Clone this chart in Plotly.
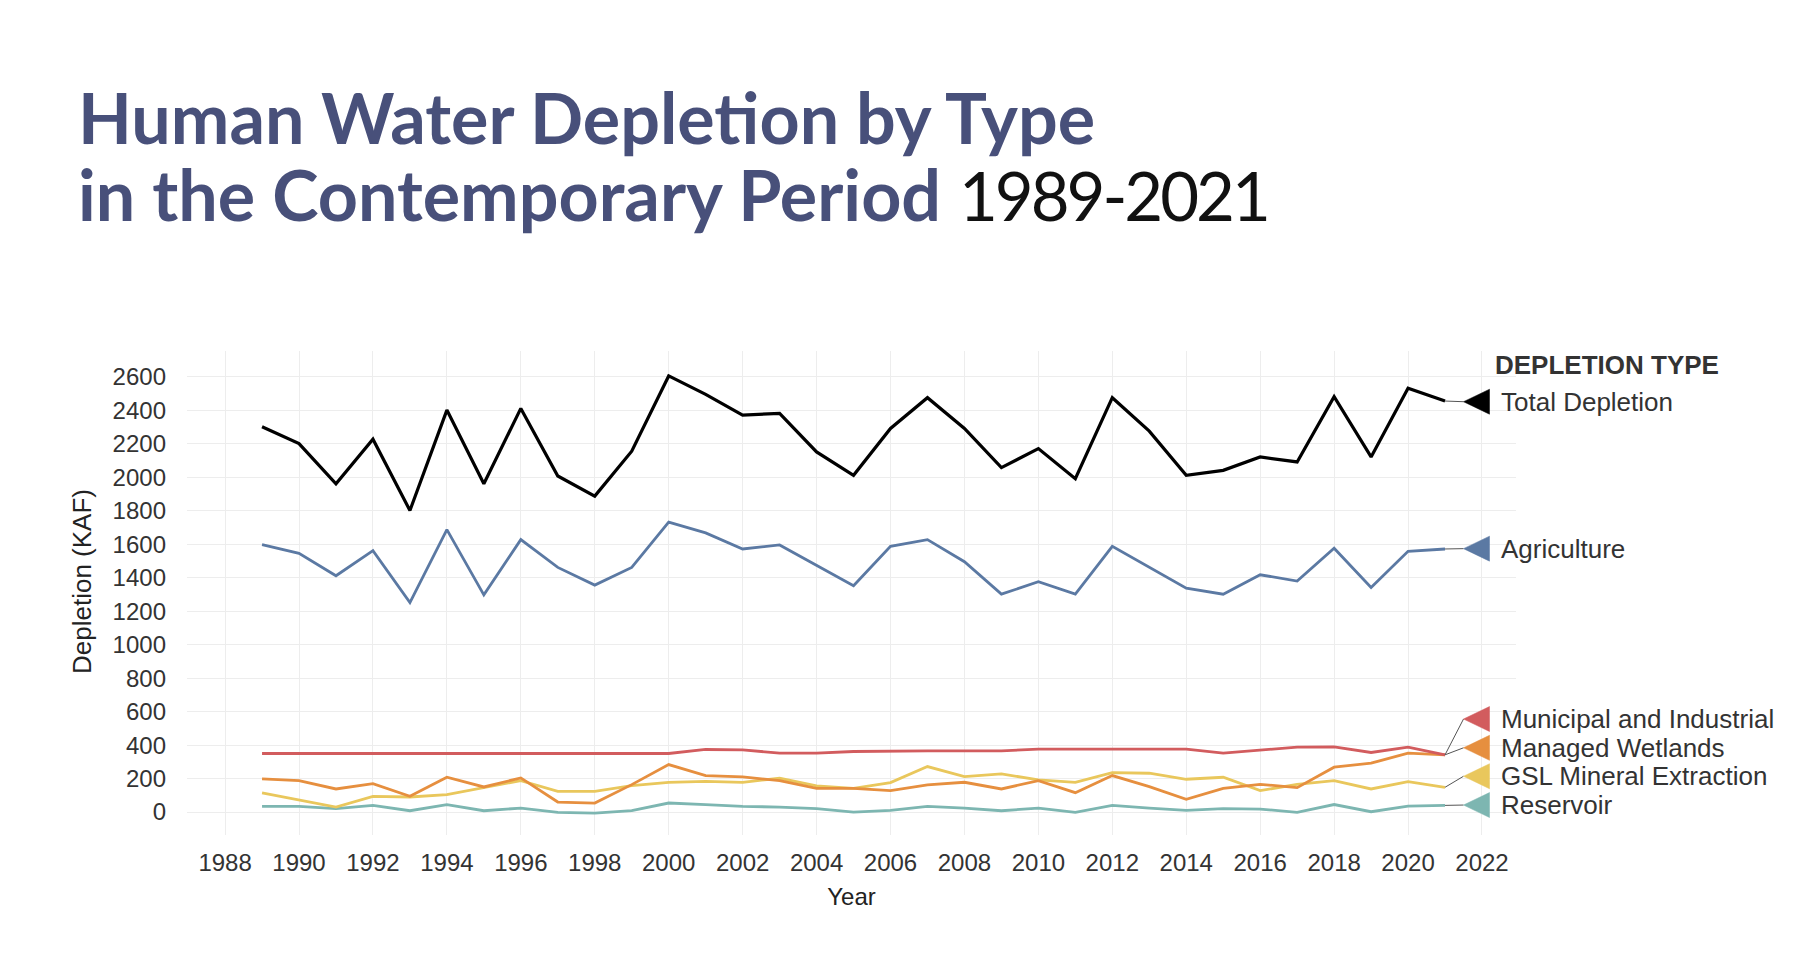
import plotly.graph_objects as go

# ---------------- data ----------------
years = list(range(1989, 2022))

total_depletion = [2302, 2202, 1962, 2228, 1802, 2402, 1962, 2412, 2008, 1888, 2156, 2606, 2496, 2372,
                   2382, 2152, 2012, 2292, 2476, 2292, 2058, 2172, 1992, 2476, 2276, 2012, 2042, 2122, 2092,
                   2482, 2122, 2532, 2456]
agriculture = [1598, 1546, 1412, 1562, 1252, 1688, 1298, 1628, 1462, 1356, 1462, 1732, 1668, 1572,
               1596, 1472, 1352, 1588, 1628, 1496, 1302, 1376, 1302, 1588, 1462, 1338, 1302, 1418,
               1380, 1576, 1342, 1558, 1572]
municipal_industrial = [350, 350, 350, 350, 350, 350, 350, 350, 350, 350, 350, 350, 374, 372,
                        352, 352, 362, 366, 366, 366, 366, 376, 376, 376, 376, 376, 352, 372, 388, 390,
                        356, 388, 342]
managed_wetlands = [198, 188, 138, 170, 94, 208, 150, 204, 60, 54, 164, 284, 218, 210,
                    188, 142, 142, 128, 162, 178, 138, 188, 116, 218, 152, 76, 142, 166, 146,
                    268, 292, 352, 342]
gsl_mineral = [114, 74, 30, 94, 90, 104, 144, 188, 124, 124, 158, 178, 184, 178,
               202, 156, 142, 176, 272, 212, 228, 192, 178, 236, 232, 196, 208, 128, 166,
               188, 138, 182, 148]
reservoir = [34, 34, 20, 40, 8, 44, 8, 24, -2, -6, 8, 54, 44, 34,
             30, 20, 0, 10, 34, 24, 8, 24, -2, 40, 24, 10, 20, 18, -2,
             45, 2, 36, 40]

series_names = ["Total Depletion", "Agriculture", "Municipal and Industrial",
                "Managed Wetlands", "GSL Mineral Extraction", "Reservoir"]
series_values = [total_depletion, agriculture, municipal_industrial,
                 managed_wetlands, gsl_mineral, reservoir]
series_colors = ["#000000", "#5b79a3", "#d25c5e", "#e68f3f", "#e9c75c", "#7db6b1"]
series_widths = [3.2, 2.8, 2.8, 2.8, 2.8, 2.8]
label_y = [2452, 1574, 556, 384, 214, 42]   # repelled label positions (KAF)

x_ticks = list(range(1988, 2023, 2))
y_ticks = list(range(0, 2601, 200))

# ---------------- layout geometry ----------------
W, H = 1806, 964
ML, MR, MT, MB = 179, 298, 343, 137
PW, PH = W - ML - MR, H - MT - MB
X_RANGE = [1986.97, 2022.92]
Y_RANGE = [-137, 2755]
px_per_year = PW / (X_RANGE[1] - X_RANGE[0])
px_per_unit = PH / (Y_RANGE[1] - Y_RANGE[0])


def px2paper_x(px):
    return (px - ML) / PW


def py2paper_y(py):
    return (H - MB - py) / PH


fig = go.Figure()

for i in [5, 4, 3, 2, 1, 0]:
    fig.add_trace(go.Scatter(
        x=years, y=series_values[i], mode="lines", name=series_names[i],
        line=dict(color=series_colors[i], width=series_widths[i]),
        showlegend=False, hoverinfo="x+y+name"))

# label connectors + triangle markers + text
tip_x = years[-1] + 0.5
tri_len = 26 / px_per_year
tri_half = 12.5 / px_per_unit
text_x = tip_x + 35 / px_per_year
for i, name in enumerate(series_names):
    ly = label_y[i]
    fig.add_trace(go.Scatter(
        x=[years[-1], tip_x], y=[series_values[i][-1], ly], mode="lines",
        line=dict(color="#555555", width=1), showlegend=False, hoverinfo="skip"))
    fig.add_trace(go.Scatter(
        x=[tip_x, tip_x + tri_len, tip_x + tri_len, tip_x],
        y=[ly, ly + tri_half, ly - tri_half, ly],
        mode="lines", fill="toself", fillcolor=series_colors[i],
        line=dict(color=series_colors[i], width=0.5),
        showlegend=False, hoverinfo="skip"))
    fig.add_annotation(x=text_x, y=ly, xref="x", yref="y", text=name,
                       showarrow=False, xanchor="left", yanchor="middle",
                       font=dict(family="Liberation Sans, Arial", size=26, color="#333333"))

fig.add_annotation(x=text_x - 6 / px_per_year, y=py2paper_y(357), xref="x", yref="paper",
                   text="<b>DEPLETION TYPE</b>", showarrow=False,
                   xanchor="left", yanchor="middle",
                   font=dict(family="Liberation Sans, Arial", size=26, color="#333333"))

# y axis title (placed as rotated text, slightly above the panel centre as in the source)
fig.add_annotation(x=px2paper_x(74), y=py2paper_y(574), xref="paper", yref="paper",
                   text="Depletion (KAF)", textangle=-90, showarrow=False,
                   xanchor="center", yanchor="middle",
                   font=dict(family="Liberation Sans, Arial", size=26, color="#222222"))

# title
TITLE_COLOR = "#48507a"
fig.add_annotation(x=px2paper_x(68), y=py2paper_y(109), xref="paper", yref="paper",
                   text="<b>Human Water Depletion by Type</b>", showarrow=False,
                   xanchor="left", yanchor="middle",
                   font=dict(family="Lato", size=70, color=TITLE_COLOR))
fig.add_annotation(x=px2paper_x(68), y=py2paper_y(186), xref="paper", yref="paper",
                   text=("<b>in the Contemporary Period</b> "
                         "<span style='color:#111111;font-size:67px;letter-spacing:-3px'>1989-2021</span>"),
                   showarrow=False, xanchor="left", yanchor="middle",
                   font=dict(family="Lato", size=70, color=TITLE_COLOR))

axis_font = dict(family="Liberation Sans, Arial", size=24, color="#333333")
fig.update_layout(
    width=W, height=H,
    margin=dict(l=ML, r=MR, t=MT, b=MB, autoexpand=False),
    paper_bgcolor="white", plot_bgcolor="white",
    xaxis=dict(range=X_RANGE, tickvals=x_ticks, ticktext=[str(v) for v in x_ticks],
               showgrid=True, gridcolor="#ededed", gridwidth=1, zeroline=False,
               showline=False, ticks="", tickfont=axis_font, ticklabelstandoff=11,
               title=dict(text="Year", font=dict(family="Liberation Sans, Arial", size=24, color="#222222"),
                          standoff=13),
               automargin=False),
    yaxis=dict(range=Y_RANGE, tickvals=y_ticks, ticktext=[str(v) for v in y_ticks],
               showgrid=True, gridcolor="#ededed", gridwidth=1, zeroline=False,
               showline=False, ticks="", tickfont=axis_font, ticklabelstandoff=20,
               automargin=False),
)

fig.write_html("out.html")
